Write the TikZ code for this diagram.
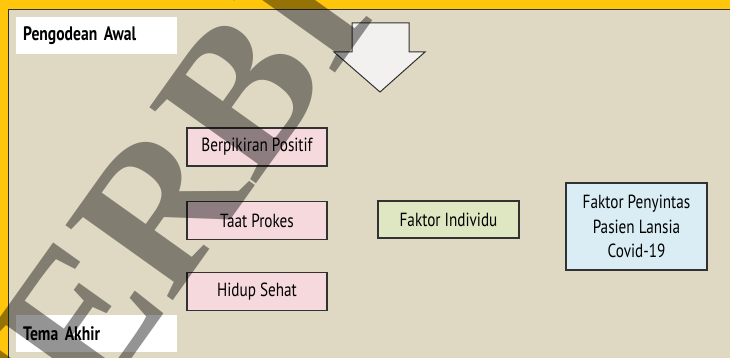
\documentclass[tikz,border=0pt]{standalone}
\usepackage{fontspec}
\newfontfamily\labelfont[FakeStretch=0.8]{PT Sans}
\newfontfamily\markfont{Liberation Serif}
\definecolor{frameyellow}{RGB}{255,198,12}
\definecolor{panelbeige}{RGB}{223,217,196}
\definecolor{codepink}{RGB}{245,217,221}
\definecolor{themegreen}{RGB}{223,230,194}
\definecolor{resultblue}{RGB}{218,237,244}
\definecolor{arrowwhite}{RGB}{243,240,240}
\definecolor{edgegray}{RGB}{50,50,50}
\begin{document}
\begin{tikzpicture}[x=1pt,y=-1pt,
  itembox/.style={draw=edgegray, line width=1.2pt, inner sep=0pt, align=center,
    minimum width=140pt, minimum height=38pt,
    font=\labelfont\fontsize{19}{24.5}\selectfont},
  stagelabel/.style={fill=white, inner sep=0pt, minimum width=161pt, minimum height=37pt,
    text width=147pt, align=left, anchor=north west,
    font=\labelfont\bfseries\fontsize{19.5}{21}\selectfont}]
\useasboundingbox (0,0) rectangle (730,358);
% frame and panel
\fill[frameyellow] (0,0) rectangle (730,358);
\fill[panelbeige] (8,10) rectangle (740,370);
\draw[edgegray, line width=1pt] (8,370) -- (8,10) -- (740,10);
% stage labels
\node[stagelabel] (awal) at (16,17) {Pengodean Awal};
\node[stagelabel] (akhir) at (16,315) {Tema Akhir};
% downward block arrow
\draw[edgegray, line width=1pt, fill=arrowwhite, line join=miter]
  (352,23) -- (409,23) -- (409,52) -- (425,52) -- (380,92) -- (334,52) -- (352,52) -- cycle;
% codes
\node[itembox, fill=codepink] (positif) at (257,147) {Berpikiran Positif};
\node[itembox, fill=codepink] (prokes) at (257,220.5) {Taat Prokes};
\node[itembox, fill=codepink] (sehat) at (257,291.5) {Hidup Sehat};
% theme
\node[itembox, fill=themegreen, minimum width=141pt, minimum height=37pt] (individu) at (448.5,219.5) {Faktor Individu};
% result
\node[itembox, fill=resultblue, minimum width=141pt, minimum height=87pt] (penyintas) at (636.5,226.5)
  {Faktor Penyintas\\Pasien Lansia\\Covid-19};
% watermark
\node[rotate=54.5, opacity=0.42, text=black, inner sep=0pt,
  font=\markfont\bfseries\fontsize{200}{200}\selectfont] (stamp) at (182,176) {TERBIT};
\end{tikzpicture}
\end{document}
